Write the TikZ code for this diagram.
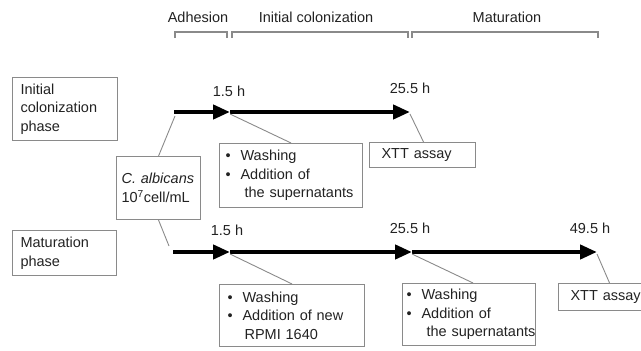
\documentclass[tikz,border=0pt]{standalone}
\usepackage{fontspec}
\setmainfont{Liberation Sans}
\usetikzlibrary{arrows.meta,calc}
\definecolor{boxgray}{HTML}{8A8A8A}
\definecolor{txt}{HTML}{222222}
\newcommand{\bul}[1]{\mbox{\makebox[15pt][l]{•}#1}}
\begin{document}
\begin{tikzpicture}[x=1pt,y=-1pt,
  every node/.style={text=txt,font=\fontsize{14.5}{18.5}\selectfont,inner sep=0pt},
  infobox/.style={draw=boxgray,line width=1.1pt,anchor=north west,align=left,inner xsep=6pt,inner ysep=0pt},
  lbl/.style={anchor=center},
  bracketline/.style={draw=boxgray,line width=1.2pt},
  conn/.style={draw=boxgray,line width=0.9pt},
  timearrow/.style={draw=black,line width=4.2pt,-{Triangle[length=17pt,width=14pt]}}]
\useasboundingbox (0,0) rectangle (641,351);

% phase labels on top
\node[lbl] (tadh) at (198,17) {Adhesion};
\node[lbl] (tic) at (316,17) {Initial colonization};
\node[lbl] (tmat) at (507,17) {Maturation};
\draw[bracketline] (175,38) -- (175,32) -- (227,32) -- (227,38);
\draw[bracketline] (232,38) -- (232,32) -- (408,32) -- (408,38);
\draw[bracketline] (412,38) -- (412,32) -- (598,32) -- (598,38);

% left phase boxes
\node[infobox,text width=89pt,minimum width=105pt,minimum height=63pt,inner xsep=8pt] (icp) at (12,77)
  {Initial\\colonization\\phase};
\node[infobox,text width=88pt,minimum width=104pt,minimum height=45pt,inner xsep=8pt] (matp) at (12,230)
  {Maturation\\phase};

% inoculum box
\node[infobox,text width=74pt,minimum width=84pt,minimum height=63pt,inner xsep=5pt] (ca) at (116,156)
  {\textit{C. albicans}\\10\textsuperscript{7}cell/mL};

% time points
\coordinate (a0) at (174,112);
\coordinate (a1) at (230,112);
\coordinate (a2) at (410,112);
\coordinate (b0) at (173,252);
\coordinate (b1) at (230,252);
\coordinate (b2) at (412,252);
\coordinate (b3) at (597,252);

\draw[timearrow] (a0) -- (a1);
\draw[timearrow] (a1) -- (a2);
\draw[timearrow] (b0) -- (b1);
\draw[timearrow] (b1) -- (b2);
\draw[timearrow] (b2) -- (b3);

\node[lbl] (t1) at (229,91) {1.5 h};
\node[lbl] (t2) at (410,88) {25.5 h};
\node[lbl] (t3) at (227,230) {1.5 h};
\node[lbl] (t4) at (410,228) {25.5 h};
\node[lbl] (t5) at (590,228) {49.5 h};

% step boxes
\node[infobox,text width=131pt,minimum width=143pt,minimum height=64pt,inner xsep=6pt] (w1) at (219,143)
  {\bul{Washing}\\\bul{Addition of}\\\mbox{\hspace*{19pt}the supernatants}};
\node[infobox,text width=82pt,minimum width=94pt,minimum height=25pt,inner xsep=12pt] (x1) at (369,142)
  {XTT assay};
\node[infobox,text width=129pt,minimum width=141pt,minimum height=62pt,inner xsep=8pt] (w2) at (219,284)
  {\bul{Washing}\\\bul{Addition of new}\\\mbox{\hspace*{17pt}RPMI 1640}};
\node[infobox,text width=125pt,minimum width=133pt,minimum height=62pt,inner xsep=4pt] (w3) at (402,283)
  {\bul{Washing}\\\bul{Addition of}\\\mbox{\hspace*{20pt}the supernatants}};
\node[infobox,text width=86pt,minimum width=98pt,minimum height=27pt,inner xsep=12pt] (x2) at (558,283)
  {XTT assay};

% connectors
\draw[conn] (ca.north) -- ($(a0)+(1,4)$);
\draw[conn] (ca.south) -- ($(b0)+(-4,-6)$);
\draw[conn] ($(a1)+(0,2)$) -- (w1.north);
\draw[conn] ($(a2)+(0,2)$) -- ($(x1.north)+(1,0)$);
\draw[conn] ($(b1)+(0,2)$) -- (w2.north);
\draw[conn] ($(b2)+(0,2)$) -- ($(w3.north)+(4,0)$);
\draw[conn] ($(b3)+(0,2)$) -- ($(x2.north)+(-4,0)$);
\end{tikzpicture}
\end{document}
